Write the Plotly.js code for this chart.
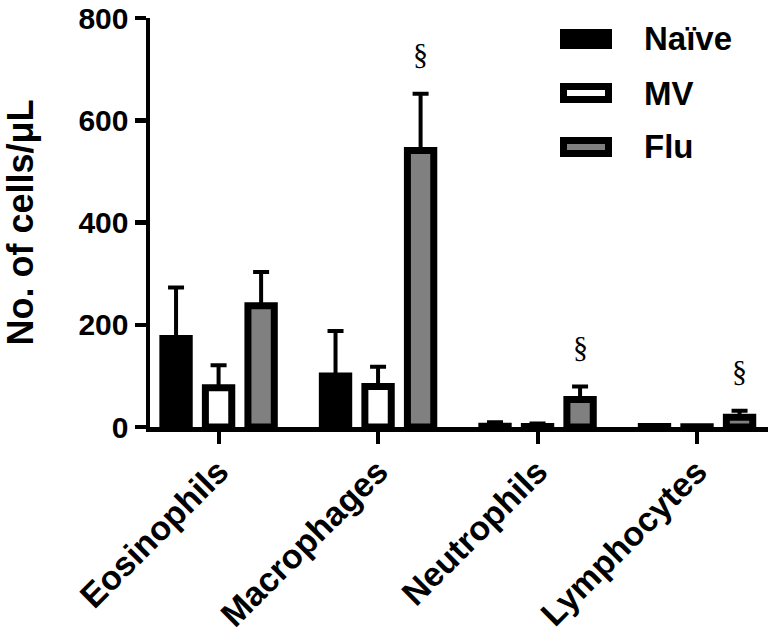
<!DOCTYPE html>
<html>
<head>
<meta charset="utf-8">
<script src="https://cdn.plot.ly/plotly-3.0.1.min.js"></script>
<style>
  html, body { margin: 0; padding: 0; background: #fff; }
  #chart { width: 771px; height: 639px; }
</style>
</head>
<body>
<div id="chart"></div>
<script>
const categories = ["Eosinophils", "Macrophages", "Neutrophils", "Lymphocytes"];
const groupNames = ["Naïve", "MV", "Flu"];
const groupFills = ["#000000", "#ffffff", "#808080"];

const naiveValues = [173, 100, 1.5, 1];
const naiveErrors = [100, 88, 8, 3];
const mvValues = [77, 79, 1, 0.5];
const mvErrors = [44, 39, 6, 1];
const fluValues = [237, 541, 54, 19];
const fluErrors = [66, 111, 25, 13];

// categories marked as significant (Flu vs others)
const significant = [false, true, true, true];

const yTicks = [0, 200, 400, 600, 800];

(function () {
  const W = 771;
  const H = 639;
  const margin = { l: 150, r: 3, t: 18, b: 212 };
  const plotW = W - margin.l - margin.r;
  const plotH = H - margin.t - margin.b;
  const bargap = 0.2;
  const font = "Liberation Sans, Arial, sans-serif";

  const series = [
    { values: naiveValues, errors: naiveErrors },
    { values: mvValues, errors: mvErrors },
    { values: fluValues, errors: fluErrors }
  ];

  const traces = series.map((s, i) => ({
    type: "bar",
    name: groupNames[i],
    x: categories,
    y: s.values,
    marker: { color: groupFills[i], line: { color: "#000", width: 7 } },
    error_y: {
      type: "data",
      symmetric: false,
      array: s.errors,
      arrayminus: s.errors.map(() => 0),
      color: "#000",
      thickness: 4,
      width: 8
    },
    showlegend: false,
    hoverinfo: "skip"
  }));

  // pixel -> paper helpers for the hand-drawn legend
  const px = (x) => (x - margin.l) / plotW;
  const py = (y) => 1 - (y - margin.t) / plotH;

  const shapes = [];
  const annotations = [];

  groupNames.forEach((name, i) => {
    const cy = 39 + i * 54;
    shapes.push({
      type: "rect",
      xref: "paper",
      yref: "paper",
      x0: px(563.5),
      x1: px(608.5),
      y0: py(cy - 6.5),
      y1: py(cy + 6.5),
      fillcolor: groupFills[i],
      line: { color: "#000", width: 7 }
    });
    annotations.push({
      xref: "paper",
      yref: "paper",
      x: px(642),
      y: py(cy),
      xanchor: "left",
      yanchor: "middle",
      text: name,
      showarrow: false,
      font: { family: font, size: 33, weight: 700, color: "#000" }
    });
  });

  // § marks above the Flu bars
  const slot = (1 - bargap) / series.length;
  categories.forEach((cat, i) => {
    if (!significant[i]) return;
    annotations.push({
      xref: "x",
      yref: "y",
      x: i + slot,
      y: fluValues[i] + fluErrors[i],
      yanchor: "middle",
      yshift: 40,
      text: "§",
      showarrow: false,
      font: { family: "Liberation Serif, Times New Roman, serif", size: 30, color: "#000" }
    });
  });

  const layout = {
    width: W,
    height: H,
    margin: margin,
    paper_bgcolor: "#fff",
    plot_bgcolor: "#fff",
    barmode: "group",
    bargap: bargap,
    bargroupgap: 0.38,
    showlegend: false,
    font: { family: font, color: "#000" },
    xaxis: {
      type: "category",
      range: [-0.43, 3.445],
      showline: true,
      linecolor: "#000",
      linewidth: 5,
      ticks: "outside",
      ticklen: 12,
      tickwidth: 4,
      tickcolor: "#000",
      tickangle: -45,
      ticklabelstandoff: -6,
      tickfont: { family: font, size: 34, weight: 700, color: "#000" },
      showgrid: false,
      zeroline: false,
      fixedrange: true
    },
    yaxis: {
      range: [0, 800],
      tickvals: yTicks,
      ticktext: yTicks.map(String),
      showline: true,
      linecolor: "#000",
      linewidth: 4.5,
      ticks: "outside",
      ticklen: 11,
      tickwidth: 4.5,
      tickcolor: "#000",
      ticklabelstandoff: 0,
      tickfont: { family: font, size: 30, weight: 700, color: "#000" },
      title: {
        text: "No. of cells/μL",
        standoff: 44,
        font: { family: font, size: 36, weight: 700, color: "#000" }
      },
      showgrid: false,
      zeroline: false,
      fixedrange: true
    },
    shapes: shapes,
    annotations: annotations
  };

  Plotly.newPlot("chart", traces, layout, { displayModeBar: false, staticPlot: true });
})();
</script>
</body>
</html>
